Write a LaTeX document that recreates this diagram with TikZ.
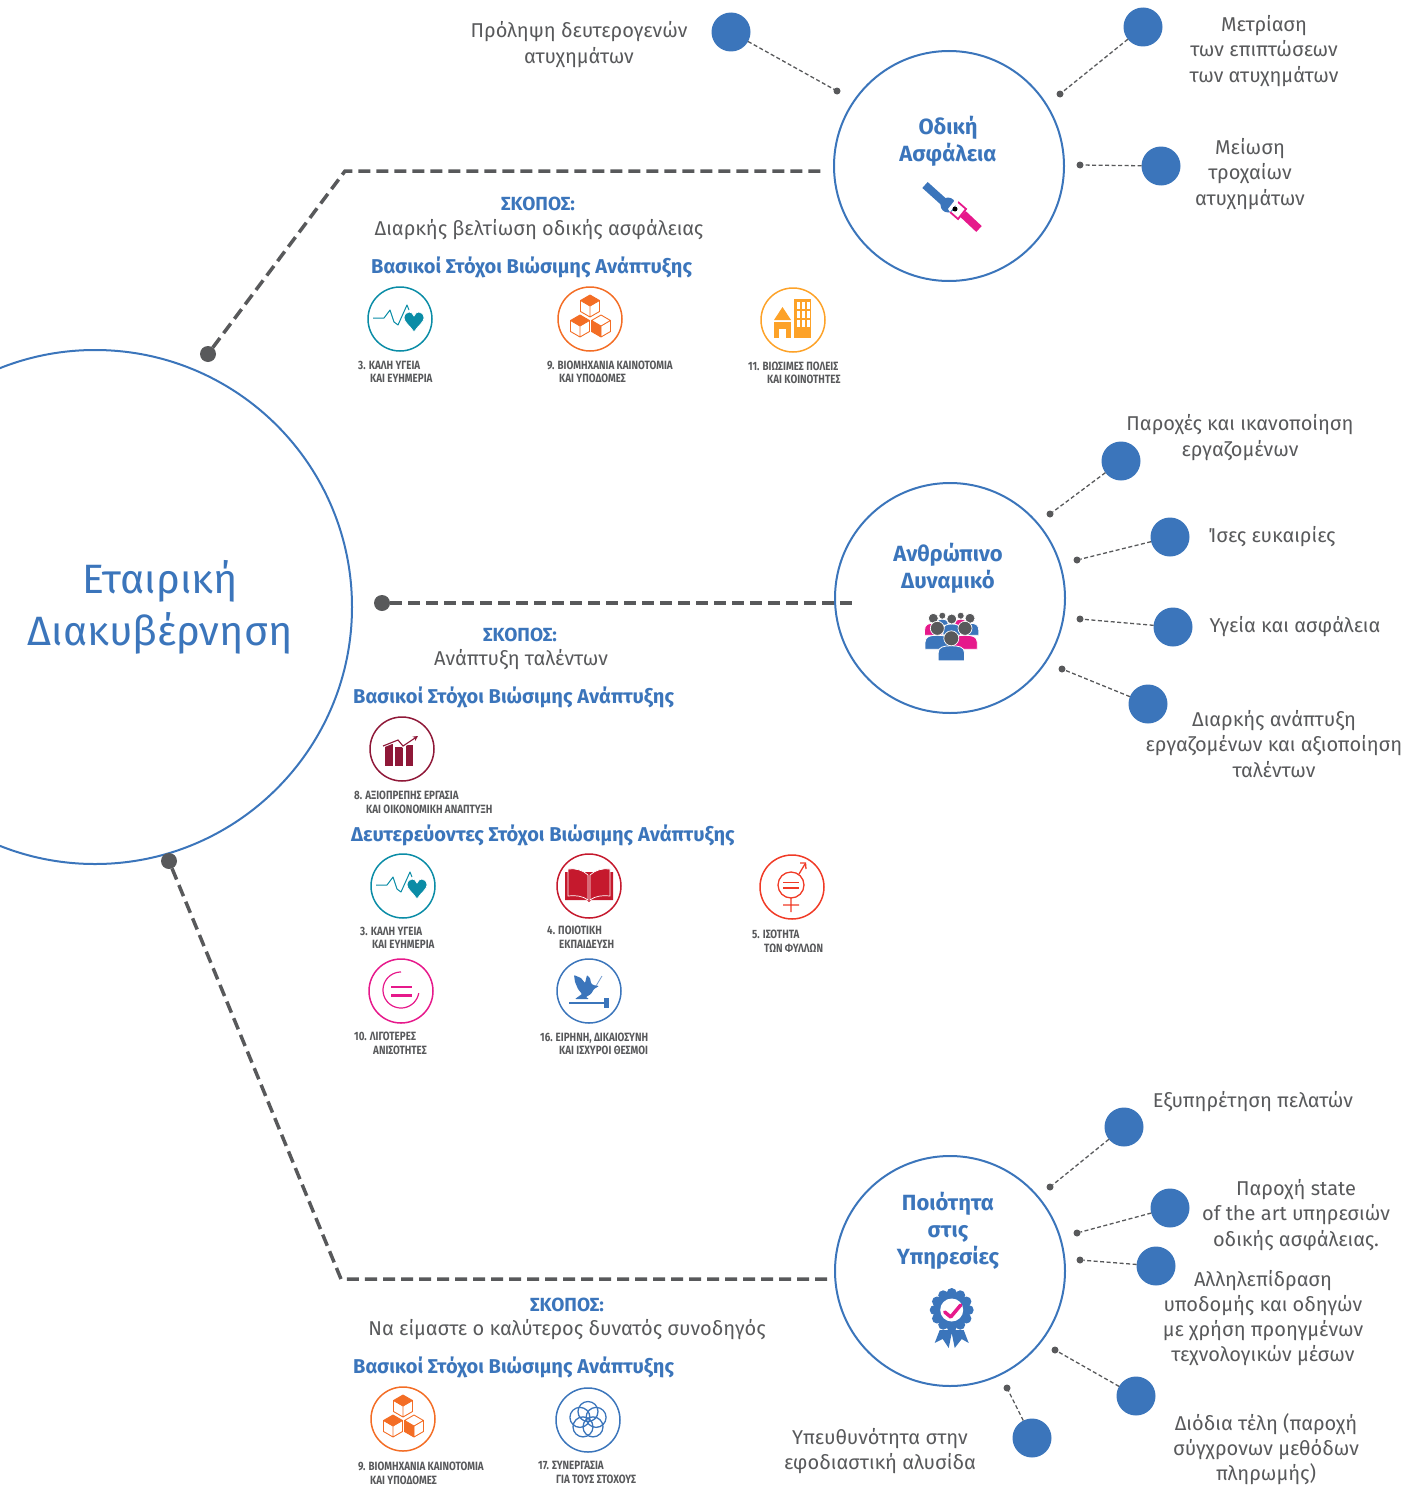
\documentclass[tikz,border=0pt]{standalone}
\usepackage{fontspec}
\setmainfont{Fira Sans}
\newfontfamily\sdgfont[FakeStretch=0.82]{Fira Sans}
\usetikzlibrary{arrows.meta}
\definecolor{bl}{HTML}{3B75BB}
\definecolor{gy}{HTML}{58595B}
\definecolor{pk}{HTML}{E6198B}
\definecolor{tl}{HTML}{0A8CA6}
\definecolor{og}{HTML}{F36D25}
\definecolor{yo}{HTML}{FDA228}
\definecolor{bu}{HTML}{8F1838}
\definecolor{rd}{HTML}{C5192D}
\definecolor{gn}{HTML}{F03A26}
\tikzset{
 x=1pt,y=-1pt,
 bigc/.style={circle,draw=bl,line width=2pt,inner sep=0,outer sep=0,minimum size=#1},
 bdot/.style={circle,fill=bl,inner sep=0,outer sep=0,minimum size=39pt},
 sdot/.style={circle,fill=gy,inner sep=0,outer sep=0,minimum size=7pt},
 gdot/.style={circle,fill=gy,inner sep=0,outer sep=0,minimum size=16pt},
 thin dash/.style={draw=gy,line width=1.3pt,dash pattern=on 4pt off 2.5pt},
 big dash/.style={draw=gy,line width=3.5pt,dash pattern=on 12pt off 6pt},
 body/.style={align=center,text=gy,font=\fontsize{20}{25.2}\selectfont,inner sep=0},
 ctitle/.style={align=center,text=bl,font=\bfseries\fontsize{22}{27}\selectfont,inner sep=0},
 subhead/.style={anchor=west,text=bl,inner sep=0,font=\fontsize{20}{24}\selectfont\bfseries},
 skopos/.style={text=bl,inner sep=0,font=\fontsize{19}{24}\selectfont\bfseries},
 sdglab/.style={anchor=west,align=left,text=gy,inner sep=0,font=\sdgfont\bfseries\fontsize{12}{13.6}\selectfont},
 sdg/.style={circle,draw=#1,line width=1.5pt,inner sep=0,outer sep=0,minimum size=64pt},
 pics/heart/.style={code={
  \draw[tl,line width=1pt,line join=round] (-27,-1)--(-16,-1)--(-10,-9)--(-6,3)--(-2,6)--(7,-14)--(9,-9);
  \filldraw[fill=tl,draw=white,line width=.8pt] (14,13) .. controls (10,7) and (4,3) .. (4,-1) .. controls (4,-5) and (7,-7) .. (9,-7) .. controls (11,-7) and (13,-6) .. (14,-3) .. controls (15,-6) and (17,-7) .. (19,-7) .. controls (21,-7) and (24,-5) .. (24,-1) .. controls (24,3) and (18,7) .. (14,13) -- cycle;
 }},
 pics/cubes/.style={code={
  \icube{0}{-13}{0}\icube{-10}{7}{0}\icube{11}{7}{1}
 }},
 pics/city/.style={code={
  \fill[yo] (1,-21) rectangle (18,18);
  \foreach \yy in {-18,-9,0}\foreach \xx in {3.5,8.5,13.5}
   \fill[white] (\xx,\yy) rectangle +(3,6.5);
  \fill[yo] (-10.5,-13)--(-2,0)--(-19,0)--cycle;
  \fill[yo] (-19,2) rectangle (-2,18);
  \fill[white] (-14,9) rectangle (-7,18);
 }},
 pics/chart/.style={code={
  \fill[bu] (-17,-5) rectangle (-9,17);
  \fill[bu] (-7,-2) rectangle (1,17);
  \fill[bu] (4,-4) rectangle (11,17);
  \draw[white,line width=3pt] (-19,-3)--(-4,-9)--(1,-3)--(14,-11);
  \draw[bu,line width=1.1pt,-{Stealth[length=5pt,width=5pt]}] (-19,-3)--(-4,-9)--(1,-3)--(16,-13);
 }},
 pics/book/.style={code={
  \fill[rd] (-24,-14)--(-24,14)--(-2,14)--(0,16)--(2,14)--(24,14)--(24,-14)--cycle;
  \filldraw[fill=rd,draw=white,line width=.7pt] (-21,-17) .. controls (-14,-18) and (-6,-16) .. (-1,-11) -- (-1,14) .. controls (-6,10) and (-14,9) .. (-21,10) -- cycle;
  \filldraw[fill=rd,draw=white,line width=.7pt] (21,-17) .. controls (14,-18) and (6,-16) .. (1,-11) -- (1,14) .. controls (6,10) and (14,9) .. (21,10) -- cycle;
 }},
 pics/gender/.style={code={
  \draw[gn,line width=1.3pt] (-1,-2) circle[radius=13pt];
  \draw[gn,line width=1.3pt] (-1,11)--(-1,25) (-9,18)--(7,18) (7,-13)--(13,-23);
  \draw[gn,line width=1.3pt] (8,-24)--(13.5,-24)--(14,-18);
  \draw[gn,line width=1.6pt] (-9,-4.5)--(7,-4.5) (-9,1)--(7,1);
 }},
 pics/ineq/.style={code={
  \draw[pk,line width=1.2pt] plot[domain=90:350,samples=40] ({18*cos(\x)},{-1-18*sin(\x)});
  \fill[pk] (-10,-5.5) rectangle (11,-3);
  \fill[pk] (-10,3) rectangle (11,5.5);
 }},
 pics/dove/.style={code={
  \fill[bl] (-20,10.8) rectangle (15,13.2);
  \fill[bl] (15,7) rectangle (20,17);
  \fill[bl,rounded corners=.8pt] (-15,-16)--(-8,-13)--(-4,-8)--(-2,-16)--(1,-13)--(2,-8)--(4,-6)--(10,-5)--(5,-2)--(2,3)--(-3,6)--(0,8)--(-14,8)--(-7,3)--(-11,-2)--(-14,-9)--cycle;
  \draw[bl!70,line width=.8pt] (7,-5)--(13,-15);
 }},
 pics/flower/.style={code={
  \foreach \a in {90,162,234,306,18}
   \draw[bl,line width=1.3pt] ({8.5*cos(\a)},{-8.5*sin(\a)}) circle[radius=10pt];
 }},
 pics/belt/.style={code={
  \draw[bl,line width=8pt] (-24,-19)--(-4,-1);
  \fill[bl] (-1,1) circle[radius=7.5pt];
  \draw[pk,line width=1.8pt,line join=miter] (9,-2)--(17,5)--(9,15)--(1,8);
  \fill[white] (1,8)--(9,-2)--(6,-4)--(-1,5)--cycle;
  \fill[black] (6,5) circle[radius=2.5pt];
  \draw[pk,line width=8pt] (14,10)--(30,25);
 }},
 pics/people/.style={code={
  \iperson{-8.7}{-24.3}{3.5}{bl}{5}
  \iperson{9.7}{-24.3}{3.5}{pk}{5}
  \iperson{-17.7}{-21.7}{5}{pk}{11}
  \iperson{19}{-21.7}{5}{bl}{11}
  \iperson{0.7}{-21}{5}{bl}{10}
  \iperson{-13.7}{-11.7}{7}{bl}{13}
  \iperson{14}{-11.7}{7}{pk}{13}
  \iperson{0.3}{-1.7}{7.5}{bl}{14}
 }},
 pics/medal/.style={code={
  \fill[bl] (-12,20)--(-17,33)--(-9,29)--(-3,38)--(0,23)--(3,38)--(10,29)--(17,33)--(12,20)--cycle;
  \foreach \a in {0,30,...,330}
   \fill[bl] ({17*cos(\a)},{17*sin(\a)}) circle[radius=5pt];
  \fill[bl] (0,0) circle[radius=18pt];
  \fill[white] (0,0) circle[radius=11.5pt];
  \draw[pk,line width=3.5pt,line cap=round,line join=round] (-7,2)--(-1,7)--(9,-5);
 }},
}
\newcommand{\icube}[3]{\begin{scope}[shift={(#1,#2)}]
  \ifnum#3=0 \fill[og] (0,-11)--(9.5,-5.5)--(0,0)--(-9.5,-5.5)--cycle;
  \else \fill[og] (-9.5,-5.5)--(0,0)--(0,11)--(-9.5,5.5)--cycle;\fi
  \filldraw[fill=none,draw=og,line width=.9pt,line join=round] (0,-11)--(9.5,-5.5)--(9.5,5.5)--(0,11)--(-9.5,5.5)--(-9.5,-5.5)--cycle (-9.5,-5.5)--(0,0)--(9.5,-5.5) (0,0)--(0,11);
\end{scope}}
\newcommand{\iperson}[5]{%
  \filldraw[fill=#4,draw=white,line width=.8pt] ({#1-1.75*#3},{#2+#3+#5+1})--({#1-1.75*#3},{#2+#3+7}) .. controls ({#1-1.75*#3},{#2+#3+1}) and ({#1-#3},{#2+#3}) .. (#1,{#2+#3}) .. controls ({#1+#3},{#2+#3}) and ({#1+1.75*#3},{#2+#3+1}) .. ({#1+1.75*#3},{#2+#3+7})--({#1+1.75*#3},{#2+#3+#5+1})--cycle;
  \filldraw[fill=gy,draw=white,line width=.7pt] (#1,#2) circle[radius=#3 pt];}
\begin{document}
\begin{tikzpicture}
\useasboundingbox (0,0) rectangle (1419,1488);
% main circle
\node[bigc=514pt] (main) at (95,607) {};
\node[inner sep=0,align=center,text=bl,font=\fontsize{41}{52}\selectfont] (maintext) at (160,607) {Εταιρική\\Διακυβέρνηση};
% themes
\node[bigc=230pt] (road) at (949,166) {};
\node[bigc=230pt] (hr) at (950,598) {};
\node[bigc=230pt] (qual) at (950,1271) {};
\node[ctitle] (roadt) at (948,141) {Οδική\\Ασφάλεια};
\node[ctitle] (hrt) at (948,568) {Ανθρώπινο\\Δυναμικό};
\node[ctitle] (qualt) at (948,1231) {Ποιότητα\\στις\\Υπηρεσίες};
\pic at (949,204) {belt};
\pic at (951,640) {people};
\pic at (951.7,1310) {medal};
% big dashed
\node[gdot] (p1) at (208,354) {};
\node[gdot] (p2) at (382,603) {};
\node[gdot] (p3) at (169,861) {};
\coordinate (e1) at (345,171); \coordinate (f1) at (825,171);
\coordinate (f2) at (852,603);
\coordinate (e3) at (341,1279); \coordinate (f3) at (828,1279);
\draw[big dash] (p1)--(e1)--(f1);
\draw[big dash] (p2)--(f2);
\draw[big dash] (p3)--(e3)--(f3);
% dots
\foreach \n/\bx/\by/\sx/\sy in {a/731/32/837/91,b/1143/27/1060/94,c/1161/166/1080/165,d/1121/461/1050/514,e/1170/537/1077/560,f/1173/627/1080/619,g/1148/704/1062/669,h/1124/1127/1050/1187,i/1170/1208/1077/1233,j/1156/1266/1080/1260,k/1136/1396/1055/1350,l/1032/1438/1007/1388}{
 \node[bdot] (b\n) at (\bx,\by) {};
 \node[sdot] (s\n) at (\sx,\sy) {};
 \draw[thin dash] (b\n)--(s\n);
}
% outer labels
\node[body] (ta) at (579,44.5) {Πρόληψη δευτερογενών\\ατυχημάτων};
\node[body] (tb) at (1264,51) {Μετρίαση\\των επιπτώσεων\\των ατυχημάτων};
\node[body] (tc) at (1250,174) {Μείωση\\τροχαίων\\ατυχημάτων};
\node[body] (td) at (1240,437.5) {Παροχές και ικανοποίηση\\εργαζομένων};
\node[body] (te) at (1272,537) {Ίσες ευκαιρίες};
\node[body] (tf) at (1295,627) {Υγεία και ασφάλεια};
\node[body] (tg) at (1274,744) {Διαρκής ανάπτυξη\\εργαζομένων και αξιοποίηση\\ταλέντων};
\node[body] (th) at (1253,1102) {Εξυπηρέτηση πελατών};
\node[body] (ti) at (1296,1215) {Παροχή state\\of the art υπηρεσιών\\οδικής ασφάλειας.};
\node[body] (tj) at (1263,1318) {Αλληλεπίδραση\\υποδομής και οδηγών\\με χρήση προηγμένων\\τεχνολογικών μέσων};
\node[body] (tk) at (1266,1449) {Διόδια τέλη (παροχή\\σύγχρονων μεθόδων\\πληρωμής)};
\node[body] (tl) at (880,1451) {Υπευθυνότητα στην\\εφοδιαστική αλυσίδα};
% goal blocks
\node[skopos] (s1) at (538,204) {ΣΚΟΠΟΣ:};
\node[body] (s1t) at (539,230) {Διαρκής βελτίωση οδικής ασφάλειας};
\node[subhead] (h1) at (371,267) {Βασικοί Στόχοι Βιώσιμης Ανάπτυξης};
\node[skopos] (s2) at (520,635) {ΣΚΟΠΟΣ:};
\node[body] (s2t) at (521,660) {Ανάπτυξη ταλέντων};
\node[subhead] (h2) at (353,697) {Βασικοί Στόχοι Βιώσιμης Ανάπτυξης};
\node[subhead] (h2b) at (351,835) {Δευτερεύοντες Στόχοι Βιώσιμης Ανάπτυξης};
\node[skopos] (s3) at (567,1305) {ΣΚΟΠΟΣ:};
\node[body] (s3t) at (567,1330) {Να είμαστε ο καλύτερος δυνατός συνοδηγός};
\node[subhead] (h3) at (353,1367) {Βασικοί Στόχοι Βιώσιμης Ανάπτυξης};
% sdg icons
\node[sdg=tl] (g1) at (400,319) {}; \pic at (g1) {heart};
\node[sdg=og] (g2) at (590,319) {}; \pic at (g2) {cubes};
\node[sdg=yo] (g3) at (793,320) {}; \pic at (g3) {city};
\node[sdg=bu] (g4) at (402,749) {}; \pic at (g4) {chart};
\node[sdg=tl] (g5) at (403,886) {}; \pic at (g5) {heart};
\node[sdg=rd] (g6) at (589,886) {}; \pic at (g6) {book};
\node[sdg=gn] (g7) at (792,887) {}; \pic at (g7) {gender};
\node[sdg=pk] (g8) at (401,991) {}; \pic at (g8) {ineq};
\node[sdg=bl] (g9) at (589,991) {}; \pic at (g9) {dove};
\node[sdg=og] (g10) at (403,1419) {}; \pic at (g10) {cubes};
\node[sdg=bl] (g11) at (588,1420) {}; \pic at (g11) {flower};
% sdg labels
\node[sdglab] (l1) at (358,372) {3. ΚΑΛΗ ΥΓΕΙΑ\\\hspace*{12pt}ΚΑΙ ΕΥΗΜΕΡΙΑ};
\node[sdglab] (l2) at (547,372) {9. ΒΙΟΜΗΧΑΝΙΑ ΚΑΙΝΟΤΟΜΙΑ\\\hspace*{12pt}ΚΑΙ ΥΠΟΔΟΜΕΣ};
\node[sdglab] (l3) at (748,373) {11. ΒΙΩΣΙΜΕΣ ΠΟΛΕΙΣ\\\hspace*{19pt}ΚΑΙ ΚΟΙΝΟΤΗΤΕΣ};
\node[sdglab] (l4) at (354,802.5) {8. ΑΞΙΟΠΡΕΠΗΣ ΕΡΓΑΣΙΑ\\\hspace*{12pt}ΚΑΙ ΟΙΚΟΝΟΜΙΚΗ ΑΝΑΠΤΥΞΗ};
\node[sdglab] (l5) at (360,938) {3. ΚΑΛΗ ΥΓΕΙΑ\\\hspace*{12pt}ΚΑΙ ΕΥΗΜΕΡΙΑ};
\node[sdglab] (l6) at (547,937.5) {4. ΠΟΙΟΤΙΚΗ\\\hspace*{12pt}ΕΚΠΑΙΔΕΥΣΗ};
\node[sdglab] (l7) at (752,941.5) {5. ΙΣΟΤΗΤΑ\\\hspace*{12pt}ΤΩΝ ΦΥΛΛΩΝ};
\node[sdglab] (l8) at (354,1043.5) {10. ΛΙΓΟΤΕΡΕΣ\\\hspace*{19pt}ΑΝΙΣΟΤΗΤΕΣ};
\node[sdglab] (l9) at (540,1044) {16. ΕΙΡΗΝΗ, ΔΙΚΑΙΟΣΥΝΗ\\\hspace*{19pt}ΚΑΙ ΙΣΧΥΡΟΙ ΘΕΣΜΟΙ};
\node[sdglab] (l10) at (358,1473.5) {9. ΒΙΟΜΗΧΑΝΙΑ ΚΑΙΝΟΤΟΜΙΑ\\\hspace*{12pt}ΚΑΙ ΥΠΟΔΟΜΕΣ};
\node[sdglab] (l11) at (538,1472.5) {17. ΣΥΝΕΡΓΑΣΙΑ\\\hspace*{18pt}ΓΙΑ ΤΟΥΣ ΣΤΟΧΟΥΣ};
\end{tikzpicture}
\end{document}
